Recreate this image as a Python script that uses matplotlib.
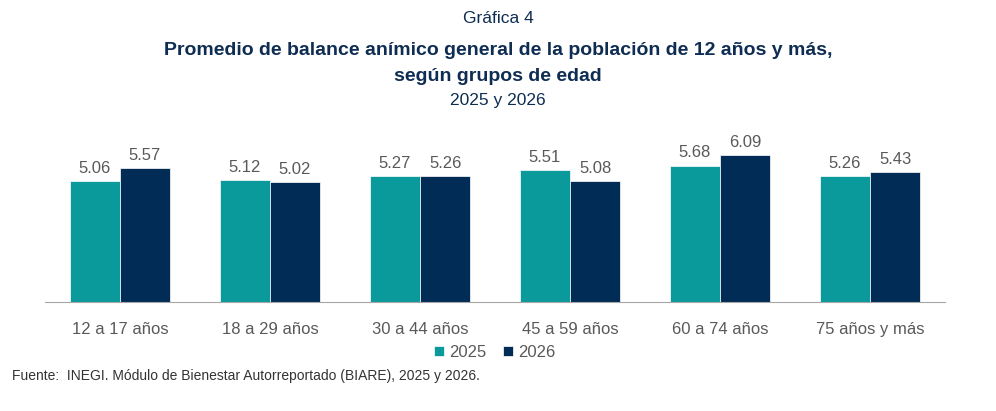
import matplotlib
matplotlib.use("Agg")
import matplotlib.pyplot as plt
import numpy as np

# datos
grupos = ["12 a 17 años", "18 a 29 años", "30 a 44 años", "45 a 59 años", "60 a 74 años", "75 años y más"]
v2025 = [5.06, 5.12, 5.27, 5.51, 5.68, 5.26]
v2026 = [5.57, 5.02, 5.26, 5.08, 6.09, 5.43]

TEAL = "#0b9a9b"
NAVY = "#002c55"
GRIS = "#595959"
TITULO = "#0f2d52"

plt.rcParams['font.family'] = ['Liberation Sans', 'DejaVu Sans']

fig = plt.figure(figsize=(9.96, 4.11), dpi=100)
ax = fig.add_axes([0.045, 0.265, 0.904, 0.42])

x = np.arange(len(grupos))
w = 0.335
b1 = ax.bar(x - w/2, v2025, w, color=TEAL, label="2025", edgecolor="white", linewidth=0.5)
b2 = ax.bar(x + w/2, v2026, w, color=NAVY, label="2026", edgecolor="white", linewidth=0.5)

for bars in (b1, b2):
    for r in bars:
        ax.text(r.get_x() + r.get_width()/2, r.get_height() + 0.2, f"{r.get_height():.2f}",
                ha="center", va="bottom", fontsize=12, color=GRIS)

ax.set_xlim(-0.5, len(grupos) - 0.5)
ax.set_ylim(0.31, 7.1)
ax.set_yticks([])
ax.set_xticks(x)
ax.set_xticklabels(grupos, fontsize=12, color=GRIS)
ax.tick_params(axis="x", length=0, pad=14)
for s in ["top", "right", "left"]:
    ax.spines[s].set_visible(False)
ax.spines["bottom"].set_color("#a6a6a6")

ax.legend(loc="upper center", bbox_to_anchor=(0.5, -0.16), ncol=2, frameon=False,
          fontsize=12, handlelength=0.6, handleheight=0.6, columnspacing=1.0,
          handletextpad=0.3, labelcolor=GRIS)

fig.text(0.5, 0.955, "Gráfica 4", ha="center", va="center", fontsize=12.5, color=TITULO)
fig.text(0.5, 0.878, "Promedio de balance anímico general de la población de 12 años y más,",
         ha="center", va="center", fontsize=14, fontweight="bold", color=TITULO)
fig.text(0.5, 0.815, "según grupos de edad", ha="center", va="center", fontsize=14,
         fontweight="bold", color=TITULO)
fig.text(0.5, 0.755, "2025 y 2026", ha="center", va="center", fontsize=12.5, color=TITULO)
fig.text(0.012, 0.085, "Fuente:  INEGI. Módulo de Bienestar Autorreportado (BIARE), 2025 y 2026.",
         ha="left", va="center", fontsize=10, color="#333333")

fig.savefig("out.png", dpi=100)
